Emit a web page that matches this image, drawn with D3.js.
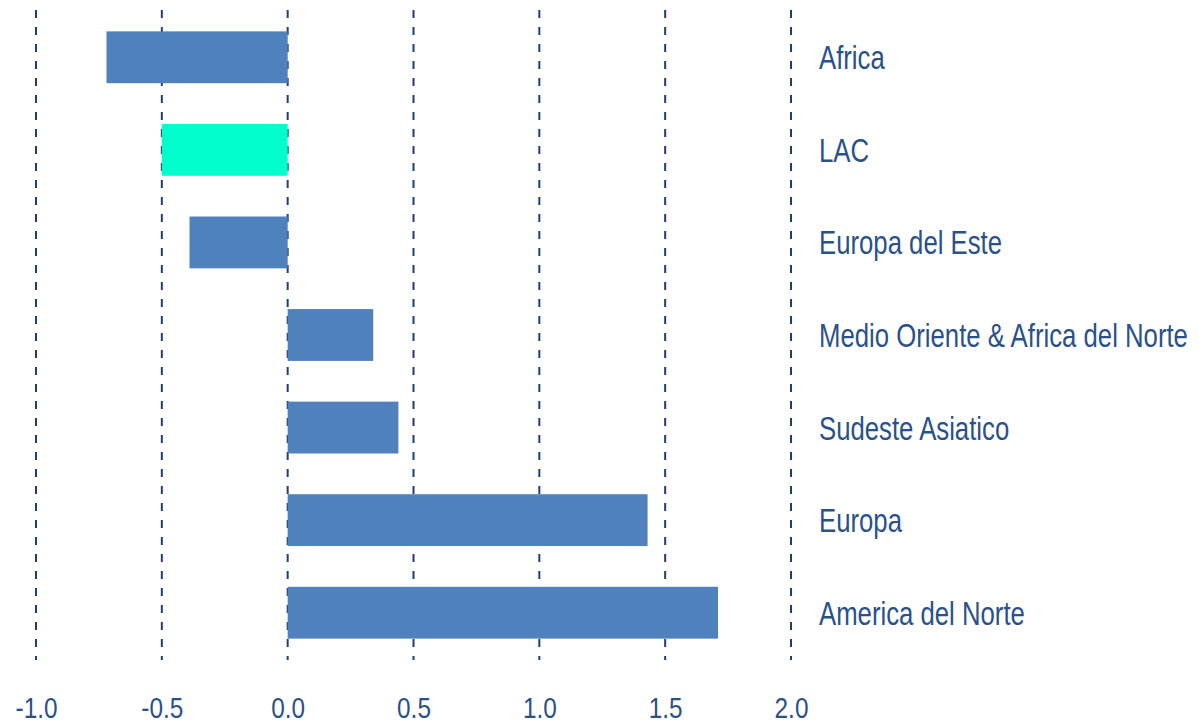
<!DOCTYPE html>
<html>
<head>
<meta charset="utf-8">
<script src="https://cdn.jsdelivr.net/npm/d3@7"></script>
<style>
  body { margin: 0; background: #fff; }
  text { font-family: "Liberation Sans", Arial, sans-serif; fill: #2a5189; }
</style>
</head>
<body>
<script>
'use strict';

// regions, top to bottom
const regions = ["Africa", "LAC", "Europa del Este", "Medio Oriente & Africa del Norte",
                 "Sudeste Asiatico", "Europa", "America del Norte"];
const values = [-0.72, -0.50, -0.39, 0.34, 0.44, 1.43, 1.71];
const highlight = ["LAC"];
const ticks = [-1.0, -0.5, 0.0, 0.5, 1.0, 1.5, 2.0];

const width = 1199, height = 723;

const svg = d3.select('body').append('svg')
  .attr('width', width)
  .attr('height', height);

// x scale: -1 at 36, 2 at 791
const x = d3.scaleLinear().domain([-1, 2]).range([36, 791]);

// bands for bars
const y = d3.scaleBand().domain(regions).range([11, 659]).paddingInner(0.44).paddingOuter(0.22);

// dashed gridlines
svg.append('g').selectAll('line')
  .data(ticks)
  .enter().append('line')
    .attr('x1', d => x(d)).attr('x2', d => x(d))
    .attr('y1', 10).attr('y2', 660)
    .attr('stroke', '#1f3f73')
    .attr('stroke-width', 2)
    .attr('stroke-dasharray', '8,9');

// bars
svg.append('g').selectAll('rect')
  .data(regions)
  .enter().append('rect')
    .attr('x', (d, i) => x(Math.min(0, values[i])))
    .attr('width', (d, i) => Math.abs(x(values[i]) - x(0)))
    .attr('y', d => y(d))
    .attr('height', y.bandwidth())
    .attr('fill', d => highlight.includes(d) ? '#00ffcc' : '#4f81bd');

// category labels to the right (condensed look)
svg.append('g').selectAll('text')
  .data(regions)
  .enter().append('text')
    .attr('transform', d => 'translate(819,' + (y(d) + y.bandwidth() / 2 + 12) + ') scale(0.78,1)')
    .style('font-size', '33px')
    .text(d => d);

// x axis labels
const xAxis = d3.axisBottom(x).tickValues(ticks).tickSize(0).tickPadding(0);
const gx = svg.append('g')
  .attr('transform', 'translate(0, 697)')
  .call(xAxis);
gx.select('.domain').remove();
gx.selectAll('text')
  .attr('transform', 'scale(0.84,1)')
  .attr('fill', null)
  .style('font-size', '29px')
  .style('font-family', null)
  .text(d => d3.format('.1f')(d).replace('−', '-'));
gx.attr('font-family', null).attr('font-size', null);
</script>
</body>
</html>
